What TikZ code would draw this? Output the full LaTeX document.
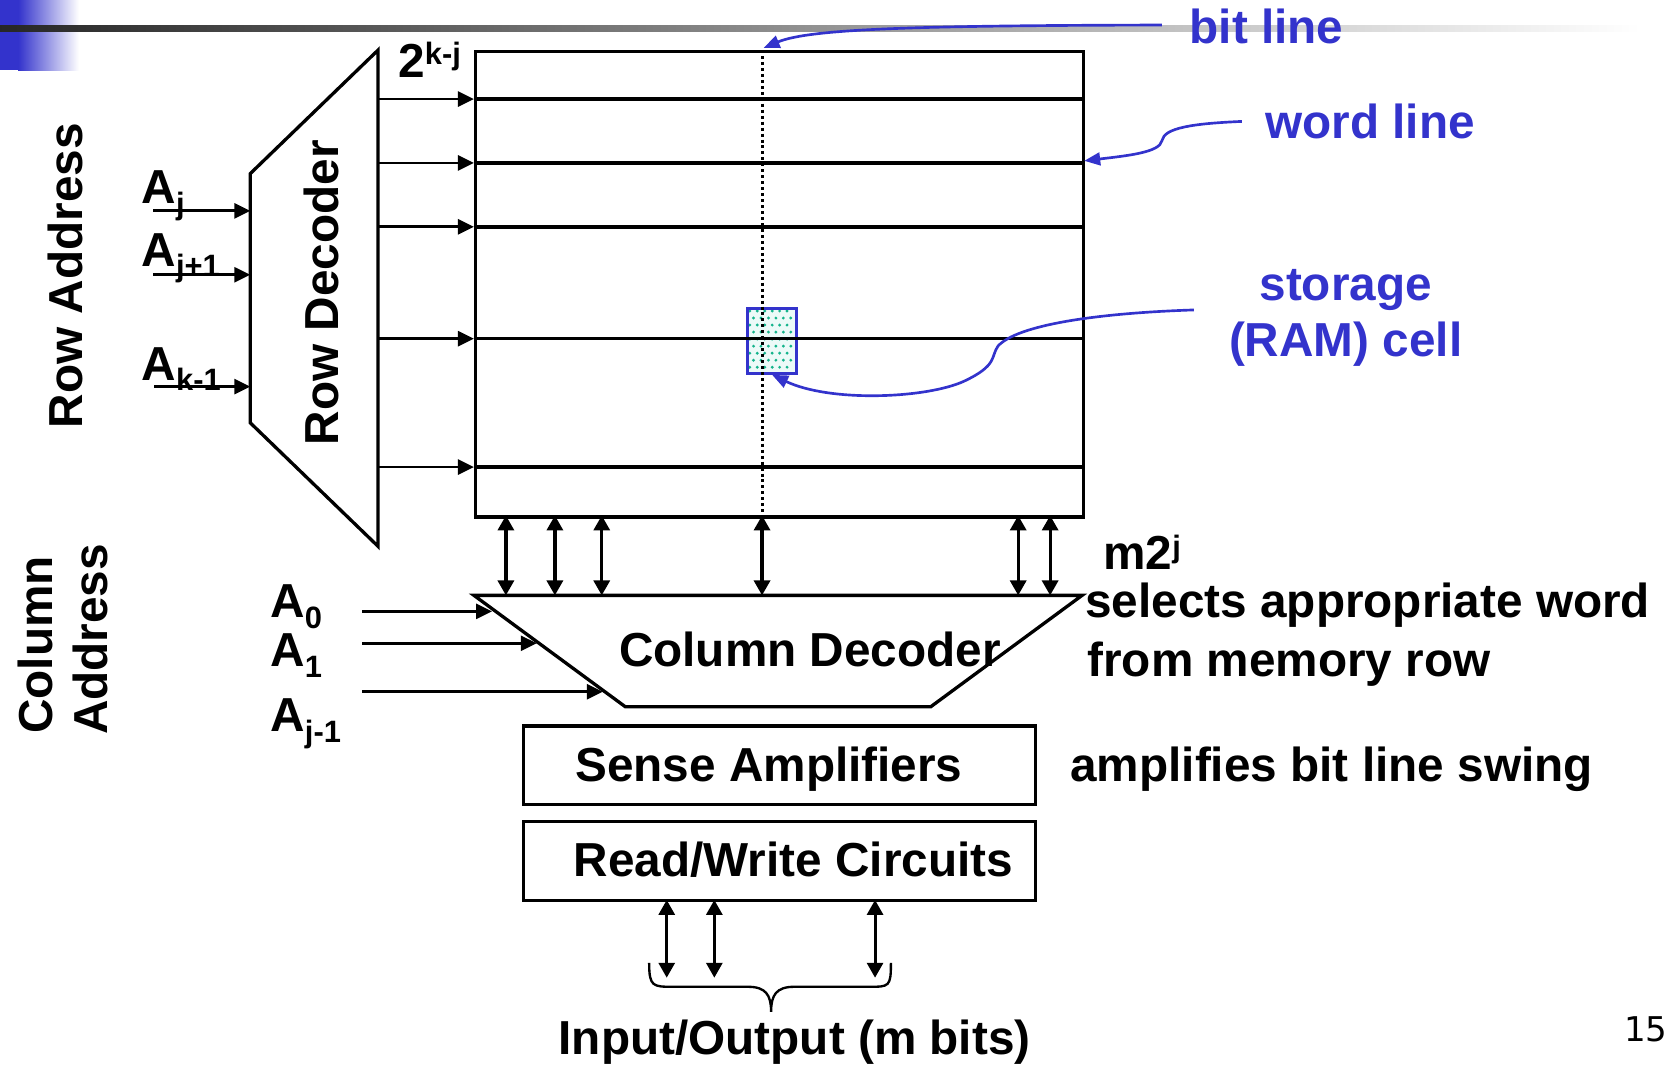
\documentclass[tikz,border=0pt]{standalone}
\usepackage{fontspec}
\setmainfont{Liberation Sans}
\newfontfamily\numfont{DejaVu Sans}
\usetikzlibrary{arrows.meta}
\definecolor{callout}{RGB}{51,51,204}
\definecolor{celldot}{RGB}{20,180,140}
\definecolor{cellfill}{RGB}{236,250,248}
\newcommand{\lowidx}[1]{\raisebox{-10pt}{\fontsize{29}{29}\selectfont #1}}
\newcommand{\highidx}[1]{\raisebox{12pt}{\fontsize{29}{29}\selectfont #1}}

\begin{document}
\begin{tikzpicture}[x=1pt,y=-1pt,
  txt/.style={font=\fontsize{44.8}{50}\selectfont\bfseries, inner sep=0pt, outer sep=0pt},
  bluetxt/.style={txt, text=callout},
  frame/.style={line width=3.1pt},
  fwd/.style={line width=2.7pt, -{Triangle[length=15pt,width=14pt]}},
  both/.style={line width=3.1pt, {Triangle[length=14pt,width=15pt]}-{Triangle[length=14pt,width=15pt]}},
  pointer/.style={line width=2.5pt, callout, -{Triangle[length=15pt,width=12pt]}},
  wordline/.style={line width=3.4pt},
  bitline/.style={line width=2.8pt, dash pattern=on 2.8pt off 2.8pt}
]
\useasboundingbox (0,0) rectangle (1568,1000);

% header strip
\fill[callout] (0,0) rectangle (17,66);
\shade[left color=callout, right color=white] (17,0) rectangle (74,66);
\shade[left color=black!85, right color=white] (0,24) rectangle (1540,30);

% storage cell (fill and dots below the lines)
\fill[cellfill] (700,288) rectangle (746,349);
\foreach \r in {0,...,8}
  \foreach \c in {0,...,5}
    \fill[celldot] ({704+7*\c+mod(\r,2)*3.5},{292+6.6*\r}) circle (1.5pt);
\node[draw=callout, line width=3pt, minimum width=46pt, minimum height=61pt,
      inner sep=0pt, anchor=north west] (cell) at (700,288) {};

% memory array
\node[draw, frame, minimum width=571pt, minimum height=437pt, inner sep=0pt,
      anchor=north west] (array) at (445,47) {};

% row decoder
\coordinate (rdT) at (355,47);
\coordinate (rdB) at (355,513);
\coordinate (rdLB) at (235,397);
\coordinate (rdLT) at (235,163);
\draw[frame, line join=miter] (rdT) -- (rdB) -- (rdLB) -- (rdLT) -- cycle;

% word lines driven by the row decoder
\foreach \yy [count=\i] in {93,153,213,318,438.5} {
  \coordinate (wd\i) at (355,\yy);
  \coordinate (wl\i) at (445,\yy);
  \coordinate (wr\i) at (1016,\yy);
  \draw[wordline] (wl\i) -- (wr\i);
  \draw[fwd] (wd\i) -- (wl\i);
}

% bit line
\coordinate (btop) at (715.5,47);
\coordinate (bbot) at (715.5,484);
\draw[bitline] (btop) -- (bbot);

% column decoder
\coordinate (cdTL) at (445,559);
\coordinate (cdTR) at (1016,559);
\coordinate (cdBR) at (874,663.5);
\coordinate (cdBL) at (587,663.5);
\draw[frame, line join=miter] (cdTL) -- (cdTR) -- (cdBR) -- (cdBL) -- cycle;

% bit lines between array and column decoder
\foreach \xx [count=\i] in {475,521,565,715.5,956,986} {
  \coordinate (ct\i) at (\xx,484);
  \coordinate (cb\i) at (\xx,559);
  \draw[both] (ct\i) -- (cb\i);
}

% row address inputs
\coordinate (ra1) at (144,198);  \coordinate (re1) at (235,198);
\coordinate (ra2) at (144,258);  \coordinate (re2) at (235,258);
\coordinate (ra3) at (145,363);  \coordinate (re3) at (235,363);
\draw[fwd] (ra1) -- (re1);
\draw[fwd] (ra2) -- (re2);
\draw[fwd] (ra3) -- (re3);

% column address inputs
\coordinate (ca1) at (340,574);   \coordinate (ce1) at (462,574);
\coordinate (ca2) at (340,604);   \coordinate (ce2) at (504,604);
\coordinate (ca3) at (340,649.5); \coordinate (ce3) at (566,649.5);
\draw[fwd] (ca1) -- (ce1);
\draw[fwd] (ca2) -- (ce2);
\draw[fwd] (ca3) -- (ce3);

% sense amplifiers and read/write circuits
\node[draw, frame, minimum width=481pt, minimum height=74pt, inner sep=0pt,
      anchor=north west] (sense) at (490,680) {};
\node[draw, frame, minimum width=481pt, minimum height=74pt, inner sep=0pt,
      anchor=north west] (rw) at (490,770) {};

% data input/output
\foreach \xx [count=\i] in {626,670.7,821.6} {
  \coordinate (io\i) at (\xx,845);
  \coordinate (iob\i) at (\xx,918);
  \draw[both, line width=2.8pt] (io\i) -- (iob\i);
}
\coordinate (brL) at (609.5,904);
\coordinate (brR) at (836.5,904);
\coordinate (brTip) at (724,950);
\draw[line width=2.2pt]
  (brL) .. controls (609.5,926.5) and (613,926.5) .. (632,926.5)
  -- (702,926.5) .. controls (719,926.5) and (724,934) .. (brTip)
  .. controls (724,934) and (729,926.5) .. (746,926.5)
  -- (816,926.5) .. controls (835,926.5) and (836.5,926.5) .. (brR);

% labels
\node[txt, anchor=base west] (rowsz) at (374,73) {2\highidx{k-j}};
\node[txt, rotate=90, anchor=base west] (rowdec) at (318,418) {Row Decoder};
\node[txt, rotate=90, anchor=base west] (rowaddr) at (77,402) {Row Address};
\node[txt, rotate=90, anchor=base west] (coladdrA) at (49,689) {Column};
\node[txt, rotate=90, anchor=base west] (coladdrB) at (101,690) {Address};

\node[txt, anchor=base west] (aj) at (133,191) {A\lowidx{j}};
\node[txt, anchor=base west] (aj1) at (133,250) {A\lowidx{j+1}};
\node[txt, anchor=base west] (ak1) at (133,357) {A\lowidx{k-1}};

\node[txt, anchor=base west] (a0) at (254,580) {A\lowidx{0}};
\node[txt, anchor=base west] (a1) at (254,626) {A\lowidx{1}};
\node[txt, anchor=base west] (ajm) at (254,687) {A\lowidx{j-1}};

\node[txt, anchor=base] (coldecT) at (760.5,626) {Column Decoder};
\node[txt, anchor=base] (senseT) at (722,734) {Sense Amplifiers};
\node[txt, anchor=base] (rwT) at (745,823) {Read/Write Circuits};
\node[txt, anchor=base] (ioT) at (746,990) {Input/Output (m bits)};

\node[txt, anchor=base west] (width) at (1036,535) {m2\highidx{j}};
\node[txt, anchor=base west] (selA) at (1019,580) {selects appropriate word};
\node[txt, anchor=base west] (selB) at (1021,635) {from memory row};
\node[txt, anchor=base west] (ampT) at (1005,734) {amplifies bit line swing};

\node[font=\numfont\fontsize{32}{32}\selectfont, inner sep=0pt, anchor=base east] (pg) at (1566,978) {15};

% callouts
\node[bluetxt, anchor=base west] (bitT) at (1117,41) {bit line};
\node[bluetxt, anchor=base west] (wordT) at (1188,130) {word line};
\node[bluetxt, anchor=base] (stoA) at (1263.5,282) {storage};
\node[bluetxt, anchor=base] (stoB) at (1263.5,335) {(RAM) cell};

\coordinate (bitFrom) at (1091,23.5);
\coordinate (bitTo) at (717,45);
\draw[pointer] (bitFrom) .. controls (860,24) and (760,27) .. (bitTo);

\coordinate (wordFrom) at (1166,114);
\coordinate (wordTo) at (1018,151);
\draw[pointer] (wordFrom) .. controls (1120,116) and (1093,120) .. (1091,132)
  .. controls (1089,143) and (1060,146) .. (wordTo);

\coordinate (cellFrom) at (1121,291);
\coordinate (cellTo) at (725,352);
\draw[pointer] (cellFrom) .. controls (1030,294) and (955,305) .. (937,325)
  .. controls (930,335) and (937,343) .. (905,358)
  .. controls (870,374) and (780,378) .. (cellTo);
\end{tikzpicture}
\end{document}
